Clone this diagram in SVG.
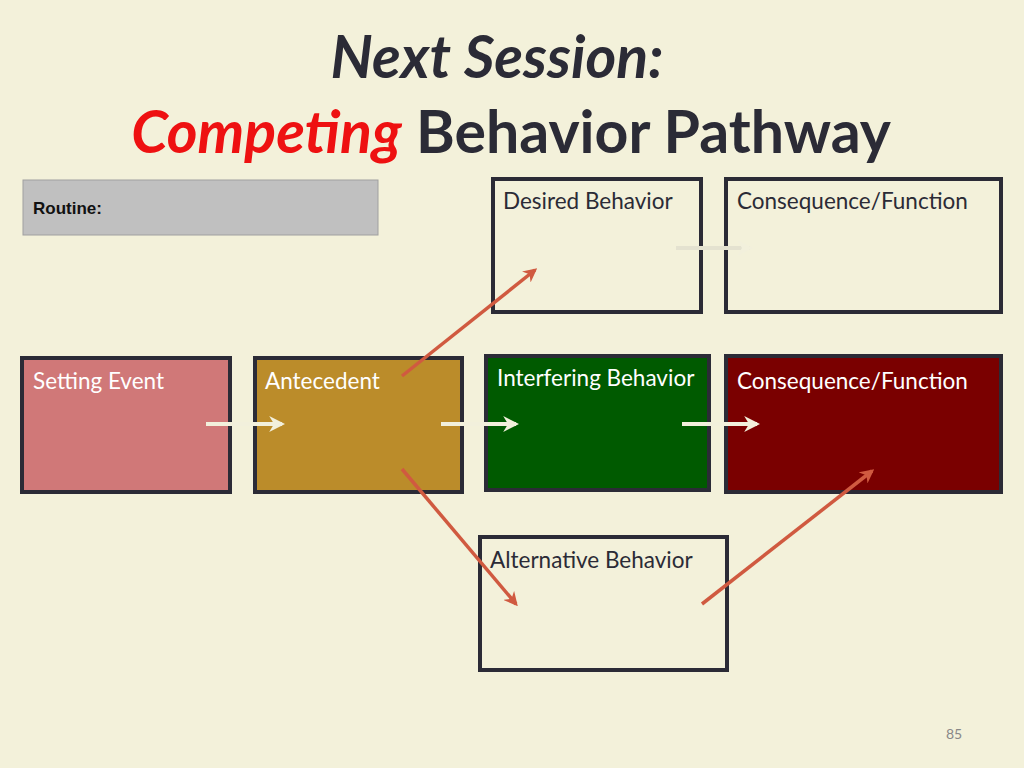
<svg xmlns="http://www.w3.org/2000/svg" width="1024" height="768" viewBox="0 0 1024 768">
<defs>
<style>
.box{stroke:#2b2b36;stroke-width:4}
.lbl{font-family:Lato,"Liberation Sans",sans-serif;font-size:22.5px}
.wa{stroke:#f2f0dc;stroke-width:4;fill:none}
.ra{stroke:#d05a40;stroke-width:3.5;fill:none}
</style>
<marker id="w" viewBox="0 0 10 10" refX="8" refY="5" markerWidth="4" markerHeight="4" orient="auto"><path d="M0,0 L10,5 L0,10 L3,5z" fill="#f2f0dc"/></marker>
<marker id="r" viewBox="0 0 10 10" refX="8" refY="5" markerWidth="4" markerHeight="4" orient="auto"><path d="M0,0 L10,5 L0,10 L3,5z" fill="#d05a40"/></marker>
</defs>
<rect width="1024" height="768" fill="#f3f1da"/>
<text x="497" y="78" text-anchor="middle" font-family="Lato,'Liberation Sans',sans-serif" font-size="59" font-weight="bold" font-style="italic" fill="#2b2b36">Next Session:</text>
<text x="511" y="153" text-anchor="middle" font-family="Lato,'Liberation Sans',sans-serif" font-size="59" font-weight="bold" fill="#2b2b36"><tspan fill="#ee1111" font-style="italic">Competing</tspan> Behavior Pathway</text>
<g id="routine"><rect x="23" y="180" width="355" height="55" fill="#c0c0c0" stroke="#a0a0a0" stroke-width="1"/><text x="33" y="214" font-family="'Liberation Sans',Arial,sans-serif" font-size="17" font-weight="bold" fill="#111">Routine:</text></g>
<g id="desired"><rect class="box" x="493" y="179" width="208" height="133" fill="none"/><text class="lbl" x="503" y="209" fill="#2b2b36">Desired Behavior</text></g>
<g id="cons1"><rect class="box" x="726" y="179" width="275" height="133" fill="none"/><text class="lbl" x="737" y="209" fill="#2b2b36">Consequence/Function</text></g>
<g id="setting"><rect class="box" x="22" y="358" width="208" height="134" fill="#d07878"/><text class="lbl" x="33" y="389" fill="#fff">Setting Event</text></g>
<g id="antecedent"><rect class="box" x="255" y="358" width="207" height="134" fill="#bb8c2a"/><text class="lbl" x="265" y="389" fill="#fff">Antecedent</text></g>
<g id="interfering"><rect class="box" x="486" y="356" width="223" height="134" fill="#005a00"/><text class="lbl" x="497" y="386" fill="#fff" font-size="20.5">Interfering Behavior</text></g>
<g id="cons2"><rect class="box" x="726" y="356" width="275" height="136" fill="#7a0000"/><text class="lbl" x="737" y="389" fill="#fff">Consequence/Function</text></g>
<g id="alternative"><rect class="box" x="480" y="537" width="247" height="133" fill="none"/><text class="lbl" x="490" y="568" fill="#2b2b36">Alternative Behavior</text></g>
<g id="connectors">
<line class="wa" x1="206" y1="424" x2="282" y2="424" marker-end="url(#w)"/>
<line class="wa" x1="441" y1="424" x2="516" y2="424" marker-end="url(#w)"/>
<line class="wa" x1="682" y1="424" x2="757" y2="424" marker-end="url(#w)"/>
<line x1="676" y1="248" x2="750" y2="248" stroke="#e4e2d0" stroke-width="4" marker-end="url(#w)"/>
<line class="ra" x1="402" y1="376" x2="535" y2="270" marker-end="url(#r)"/>
<line class="ra" x1="402" y1="469" x2="516" y2="604" marker-end="url(#r)"/>
<line class="ra" x1="702" y1="604" x2="872" y2="471" marker-end="url(#r)"/>
</g>
<text x="954" y="739" text-anchor="middle" font-family="Lato,'Liberation Sans',sans-serif" font-size="14" fill="#888">85</text>
</svg>
